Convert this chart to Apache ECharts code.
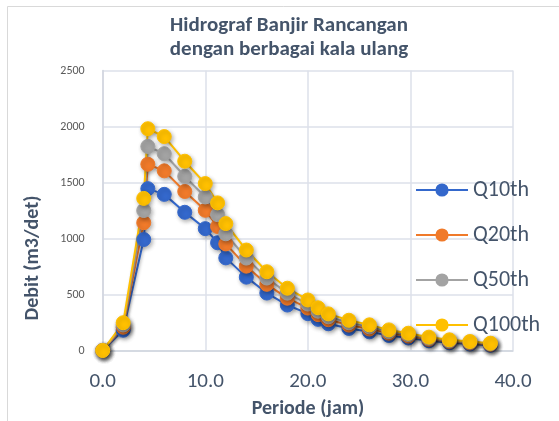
<!DOCTYPE html>
<html>
<head>
<meta charset="utf-8">
<script src="https://cdn.jsdelivr.net/npm/echarts@6/dist/echarts.min.js"></script>
<style>
html,body{margin:0;padding:0;background:#fff;}
#c{width:559px;height:421px;}
</style>
</head>
<body>
<div id="c"></div>
<script>
const periode = [0, 2, 4, 4.4, 6, 8, 10, 11.2, 12, 14, 16, 18, 20, 21, 22, 24, 26, 27.9, 29.8, 31.8, 33.8, 35.8, 37.8];
const q10 = [0, 181, 991, 1445, 1394, 1234, 1088, 962, 827, 655, 513, 406, 329, 278, 239, 197, 167, 134, 112, 87, 69, 58, 47];
const q20 = [0, 208, 1141, 1663, 1604, 1420, 1252, 1107, 952, 753, 591, 467, 379, 320, 275, 227, 192, 155, 129, 100, 80, 67, 55];
const q50 = [0, 228, 1250, 1822, 1757, 1555, 1371, 1213, 1042, 825, 647, 512, 415, 351, 301, 248, 211, 169, 142, 109, 87, 74, 60];
const q100 = [0, 248, 1358, 1980, 1910, 1690, 1490, 1318, 1133, 897, 703, 556, 451, 381, 327, 270, 229, 184, 154, 119, 95, 80, 65];
const seriesNames = ['Q10th', 'Q20th', 'Q50th', 'Q100th'];
const seriesColors = ['#3468CC', '#F07A2A', '#A3A3A3', '#FFC000'];
const xTicks = [0, 10, 20, 30, 40];
const yTicks = [0, 500, 1000, 1500, 2000, 2500];

const FONT = 'Carlito, Lato, "Liberation Sans", sans-serif';
const TXT = '#44546A';

const allData = [q10, q20, q50, q100];
const chart = echarts.init(document.getElementById('c'), null, {renderer: 'canvas'});
const series = allData.map((vals, i) => ({
  name: seriesNames[i],
  type: 'line',
  data: vals.map((v, j) => [periode[j], v]),
  symbol: 'circle',
  symbolSize: 14,
  showAllSymbol: true,
  lineStyle: {color: seriesColors[i], width: 2, shadowBlur: 3, shadowColor: 'rgba(0,0,0,0.25)', shadowOffsetX: 1, shadowOffsetY: 2},
  itemStyle: {
    color: seriesColors[i],
    borderColor: seriesColors[i],
    borderWidth: 1,
    shadowBlur: 4,
    shadowColor: 'rgba(0,0,0,0.3)',
    shadowOffsetX: 1.5,
    shadowOffsetY: 2
  },
  emphasis: {disabled: true},
  animation: false
}));

chart.setOption({
  animation: false,
  backgroundColor: '#ffffff',
  graphic: [
    {type: 'rect', shape: {x: 7.5, y: 6.5, width: 560, height: 420}, style: {fill: 'none', stroke: '#D9D9D9', lineWidth: 1}, silent: true},
    {type: 'text', x: 289, y: 26, style: {text: 'Hidrograf Banjir Rancangan', font: 'bold 21px ' + FONT, fill: TXT, textAlign: 'center', textVerticalAlign: 'middle'}, silent: true},
    {type: 'text', x: 289, y: 50, style: {text: 'dengan berbagai kala ulang', font: 'bold 21px ' + FONT, fill: TXT, textAlign: 'center', textVerticalAlign: 'middle'}, silent: true},
    {type: 'text', x: 33, y: 258, rotation: Math.PI / 2, style: {text: 'Debit (m3/det)', font: 'bold 20px ' + FONT, fill: TXT, textAlign: 'center', textVerticalAlign: 'middle'}, silent: true},
    {type: 'text', x: 308, y: 409, style: {text: 'Periode (jam)', font: 'bold 20px ' + FONT, fill: TXT, textAlign: 'center', textVerticalAlign: 'middle'}, silent: true}
  ],
  legend: {
    orient: 'vertical',
    left: 410,
    top: 173,
    itemWidth: 52,
    itemHeight: 14,
    itemGap: 21,
    textStyle: {fontFamily: FONT, fontSize: 22, color: TXT, lineHeight: 24},
    data: seriesNames
  },
  grid: {left: 102.7, right: 46, top: 70.5, bottom: 70.5, containLabel: false},
  xAxis: {
    type: 'value',
    min: xTicks[0],
    max: xTicks[xTicks.length - 1],
    interval: 10,
    axisLine: {show: true, onZero: false, lineStyle: {color: '#D0D5DE', width: 1.5}},
    axisTick: {show: false},
    splitLine: {show: true, lineStyle: {color: '#DCE1EA', width: 1.5}},
    axisLabel: {fontFamily: FONT, fontSize: 21, color: TXT, margin: 21, formatter: v => v.toFixed(1)}
  },
  yAxis: {
    type: 'value',
    min: yTicks[0],
    max: yTicks[yTicks.length - 1],
    interval: 500,
    axisLine: {show: true, lineStyle: {color: '#D0D5DE', width: 1.5}},
    axisTick: {show: false},
    splitLine: {show: true, lineStyle: {color: '#DCE1EA', width: 1.5}},
    axisLabel: {fontFamily: FONT, fontSize: 12, color: '#595959', margin: 18, formatter: v => String(v)}
  },
  series: series
});
</script>
</body>
</html>
